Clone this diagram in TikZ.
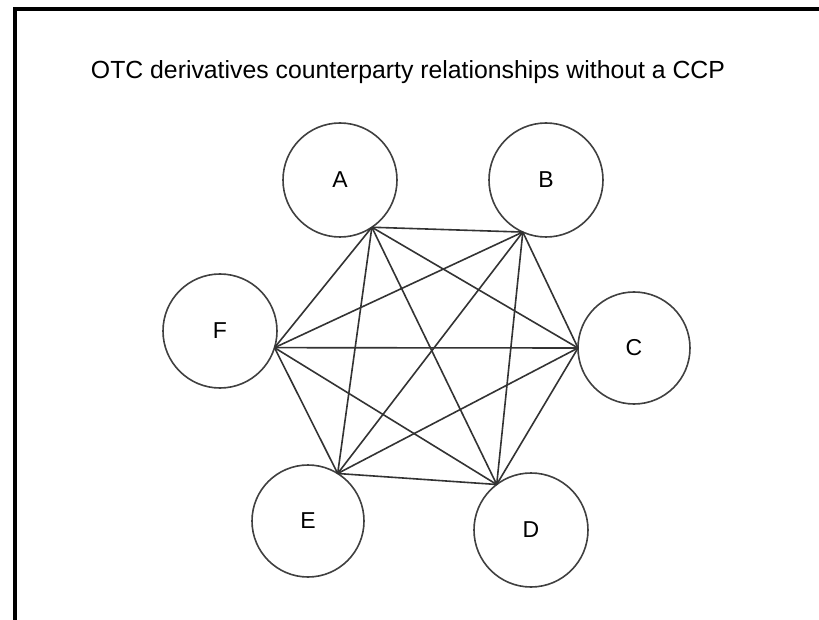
\documentclass[tikz,border=0pt]{standalone}
\usepackage{fontspec}
\setmainfont{Liberation Sans}
\begin{document}
\begin{tikzpicture}[x=1pt,y=-1pt,
  party/.style={circle,draw=black!75,line width=1.6pt,minimum size=114pt,inner sep=0pt,outer sep=0pt,font=\fontsize{23}{28}\selectfont},
  link/.style={draw=black!80,line width=1.6pt},
  frameline/.style={draw=black,line width=4pt}]
\useasboundingbox (0,0) rectangle (819,620);
\coordinate (tl) at (14.5,9);
\coordinate (tr) at (819,9);
\coordinate (bl) at (14.5,620);
\draw[frameline] (tr) -- (tl) -- (bl);
\node[font=\fontsize{24.8}{28}\selectfont] (title) at (408,72) {OTC derivatives counterparty relationships without a CCP};
\node[party] (A) at (340,180) {A};
\node[party] (B) at (546,180) {B};
\node[party] (F) at (220,331) {F};
\node[party,minimum size=112pt] (C) at (634,348) {C};
\node[party,minimum size=112pt] (E) at (308,521) {E};
\node[party] (D) at (531,530) {D};
\coordinate (a) at (A.-56);
\coordinate (b) at (B.-114);
\coordinate (f) at (F.-17);
\coordinate (c) at (C.180);
\coordinate (e) at (E.58);
\coordinate (d) at (D.127);
\foreach \p/\q in {a/b,a/c,a/d,a/e,a/f,b/c,b/d,b/e,b/f,c/d,c/e,c/f,d/e,d/f,e/f}
  \draw[link] (\p) -- (\q);
\end{tikzpicture}
\end{document}
